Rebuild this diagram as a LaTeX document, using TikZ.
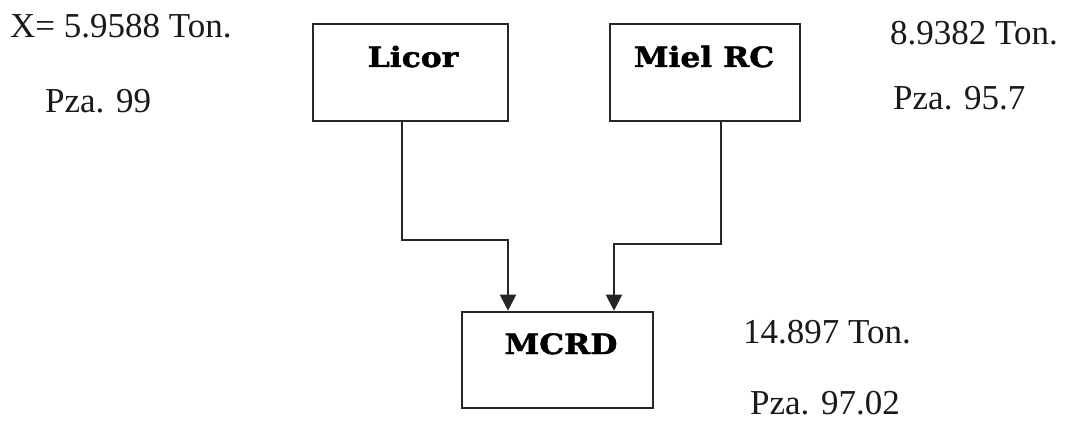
\documentclass[tikz,border=0pt]{standalone}
\usepackage{fontspec}
\setmainfont{Liberation Serif}
\newfontfamily\boxfont[FakeStretch=1.12,FakeBold=1.6]{DejaVu Serif}
\usetikzlibrary{arrows.meta}
\begin{document}
\begin{tikzpicture}[x=1pt,y=-1pt,
  unitbox/.style={draw=black!85, line width=2.6pt, rectangle, minimum width=#1, minimum height=97pt, inner sep=0pt},
  boxlabel/.style={anchor=base, font=\boxfont\bfseries\fontsize{28}{28}\selectfont, inner sep=0pt},
  datum/.style={anchor=base west, font=\fontsize{35}{35}\selectfont, inner sep=0pt, text=black!90},
  flow/.style={draw=black!85, line width=2.2pt, -{Triangle[width=16pt,length=16pt]}}]
\useasboundingbox (0,0) rectangle (1068,422);

% process units
\node[unitbox=195pt] (licor) at (410.5,72.5) {};
\node[unitbox=190pt] (miel)  at (705,72.5) {};
\node[unitbox=191pt, minimum height=96pt] (mcrd) at (557.5,360) {};

\node[boxlabel] (licortxt) at (413,67) {Licor};
\node[boxlabel] (mieltxt)  at (704,67) {Miel RC};
\node[boxlabel] (mcrdtxt)  at (561,354) {MCRD};

% stream data
\node[datum] (xton)   at (10,38)   {X= 5.9588 Ton.};
\node[datum] (xpza)   at (45,113)  {Pza. 99};
\node[datum] (mton)   at (890,45)  {8.9382 Ton.};
\node[datum] (mpza)   at (893,110) {Pza. 95.7};
\node[datum] (oton)   at (743,343) {14.897 Ton.};
\node[datum] (opza)   at (750,414) {Pza. 97.02};

% routing points of the feeds
\coordinate (lx) at (402,0);
\coordinate (lin) at (508,0);
\coordinate (mx) at (721,0);
\coordinate (min) at (614,0);

\draw[flow] (licor.south -| lx) -- (402,240) -- (508,240) -- (mcrd.north -| lin);
\draw[flow] (miel.south -| mx) -- (721,244) -- (614,244) -- (mcrd.north -| min);
\end{tikzpicture}
\end{document}
